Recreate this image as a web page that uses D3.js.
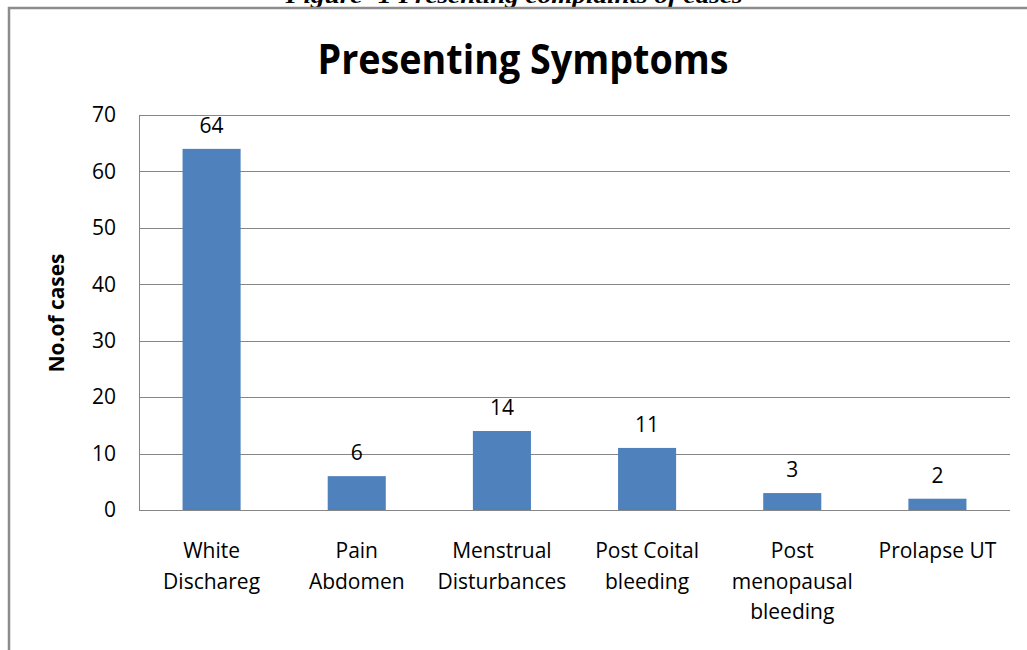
<!DOCTYPE html>
<html>
  <head>
    <title>Presenting Symptoms</title>
    <script src="https://cdn.jsdelivr.net/npm/d3@7"></script>
    <style>
      body { margin: 0; background: #fff; }
      text { font-family: "Open Sans", sans-serif; fill: #000; }
    </style>
  </head>
  <body>
    <svg width="1027" height="650" id="mainsvg"></svg>
    <script>
      // data
      const categories = [
        ['White', 'Dischareg'],
        ['Pain', 'Abdomen'],
        ['Menstrual', 'Disturbances'],
        ['Post Coital', 'bleeding'],
        ['Post', 'menopausal', 'bleeding'],
        ['Prolapse UT']
      ];
      const values = [64, 6, 14, 11, 3, 2];
      const yTicks = [0, 10, 20, 30, 40, 50, 60, 70];

      const data = categories.map((c, i) => ({ key: c.join(' '), lines: c, value: values[i] }));

      const svg = d3.select('#mainsvg');
      const width = +svg.attr('width');
      const height = +svg.attr('height');
      const margin = { top: 115, right: 17, bottom: 140, left: 139 };
      const innerWidth = width - margin.left - margin.right;
      const innerHeight = height - margin.top - margin.bottom;

      svg.append('rect').attr('width', width).attr('height', height).attr('fill', '#fff');

      // caption of the figure, cut off at the top of the page
      svg.append('text')
        .text('Figure- 1 Presenting complaints of cases')
        .attr('x', 514).attr('y', 3)
        .attr('text-anchor', 'middle')
        .attr('textLength', 457).attr('lengthAdjust', 'spacingAndGlyphs')
        .style('font-family', '"Liberation Serif", serif')
        .style('font-weight', 'bold').style('font-style', 'italic')
        .style('font-size', '20px');

      // chart frame (only left and top sides are on the page)
      svg.append('rect')
        .attr('x', 9).attr('y', 8)
        .attr('width', 1100).attr('height', 700)
        .attr('fill', 'none').attr('stroke', '#8c8c8c').attr('stroke-width', 2.5);

      const g = svg.append('g').attr('transform', `translate(${margin.left}, ${margin.top})`);

      const xScale = d3.scaleBand()
        .domain(data.map(d => d.key))
        .range([0, innerWidth])
        .paddingInner(0.6)
        .paddingOuter(0.3);

      const yScale = d3.scaleLinear()
        .domain([0, 70])
        .range([innerHeight, 0]);

      // grid lines
      g.append('g').selectAll('line').data(yTicks.slice(1)).join('line')
        .attr('x1', 0).attr('x2', innerWidth)
        .attr('y1', d => Math.round(yScale(d)) + 0.5).attr('y2', d => Math.round(yScale(d)) + 0.5)
        .attr('stroke', '#868686').attr('stroke-width', 1);

      // y axis
      const yAxis = d3.axisLeft(yScale).tickValues(yTicks).tickSize(0).tickPadding(23);
      const yAxisGroup = g.append('g').call(yAxis);
      yAxisGroup.select('.domain').attr('stroke', '#868686');
      yAxisGroup.selectAll('.tick text')
        .style('font-size', '21px').attr('fill', '#000');

      svg.append('text')
        .text('No.of cases')
        .attr('transform', 'translate(64, 313) rotate(-90)')
        .attr('text-anchor', 'middle')
        .attr('textLength', 119).attr('lengthAdjust', 'spacingAndGlyphs')
        .style('font-weight', 'bold').style('font-size', '21px');

      // bars
      g.append('g').selectAll('rect').data(data).join('rect')
        .attr('x', d => xScale(d.key))
        .attr('y', d => yScale(d.value))
        .attr('width', xScale.bandwidth())
        .attr('height', d => innerHeight - yScale(d.value))
        .attr('fill', '#4f81bd');

      // x axis line
      g.append('line')
        .attr('x1', 0).attr('x2', innerWidth)
        .attr('y1', innerHeight + 0.5).attr('y2', innerHeight + 0.5)
        .attr('stroke', '#868686');

      // value labels
      g.append('g').selectAll('text').data(data).join('text')
        .text(d => d.value)
        .attr('x', d => xScale(d.key) + xScale.bandwidth() / 2)
        .attr('y', d => yScale(d.value) - 16)
        .attr('text-anchor', 'middle')
        .style('font-size', '21px');

      // category labels
      const labels = g.append('g').selectAll('text').data(data).join('text')
        .attr('x', d => xScale(d.key) + xScale.bandwidth() / 2)
        .attr('y', innerHeight + 48)
        .attr('text-anchor', 'middle')
        .style('font-size', '21px');
      labels.selectAll('tspan').data(d => d.lines).join('tspan')
        .text(d => d)
        .attr('x', function () { return d3.select(this.parentNode).attr('x'); })
        .attr('dy', (d, i) => i === 0 ? 0 : 30.5);

      // title
      svg.append('text')
        .text('Presenting Symptoms')
        .attr('x', 523).attr('y', 74)
        .attr('text-anchor', 'middle')
        .attr('textLength', 411).attr('lengthAdjust', 'spacingAndGlyphs')
        .style('font-weight', 'bold').style('font-size', '41px');
    </script>
  </body>
</html>
